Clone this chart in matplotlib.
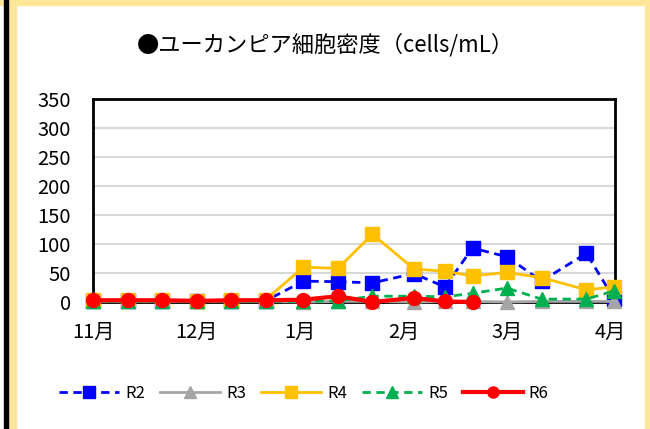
import pandas as pd
import numpy as np
import matplotlib
matplotlib.use('Agg')
import matplotlib.pyplot as plt
from matplotlib.patches import Rectangle

plt.rcParams['font.family'] = ['Noto Sans CJK JP', 'DejaVu Sans']

# 観測日
dates = ['2020-11-01', '2020-11-11', '2020-11-21', '2020-12-01', '2020-12-11', '2020-12-21',
         '2021-01-01', '2021-01-11', '2021-01-21', '2021-02-02', '2021-02-11', '2021-02-19',
         '2021-03-01', '2021-03-11', '2021-03-24', '2021-04-01']
r2 = [2, 2, 2, 1, 2, 2, 36, 35, 33, 49, 26, 93, 78, 36, 84, 6]
r3 = [1, 1, 1, 1, 1, 1, 0, 1, 1, 0, 1, 1, 0, 1, 1, 1]
r4 = [3, 3, 3, 2, 3, 4, 60, 58, 117, 57, 53, 45, 51, 42, 21, 26]
r5 = [1, 1, 1, 1, 1, 1, 1, 2, 10, 10, 9, 15, 24, 5, 5, 19]
r6 = [3, 3, 3, 2, 3, 3, 4, 10, 0, 7, 1, 0]
month_labels = ['11月', '12月', '1月', '2月', '3月', '4月']
title = '●ユーカンピア細胞密度（cells/mL）'

start = pd.Timestamp('2020-11-01')
days = [(pd.Timestamp(d) - start).days for d in dates]

fig = plt.figure(figsize=(6.5, 4.29), dpi=100)
W, H = 650, 429

def box(x, y, w, h, c):
    fig.patches.append(Rectangle((x / W, 1 - (y + h) / H), w / W, h / H,
                                 transform=fig.transFigure, color=c, zorder=-1))

# 枠（セルの背景）
box(0, 0, W, 5, '#FFE699')
box(8, 0, 8, H, '#FFE699')
box(645, 0, 5, H, '#FFE699')
box(4, 0, 4, H, 'black')

ax = fig.add_axes([93 / W, 1 - 302 / H, (615 - 93) / W, (302 - 99) / H])

ax.plot(days, r2, color='#0000FF', lw=2, linestyle=(0, (3, 2)), marker='s', ms=10, clip_on=False, label='R2', zorder=3)
ax.plot(days, r3, color='#A5A5A5', lw=2, marker='^', ms=10, clip_on=False, label='R3', zorder=4)
ax.plot(days, r4, color='#FFC000', lw=2, marker='s', ms=10, clip_on=False, label='R4', zorder=5)
ax.plot(days, r5, color='#00B050', lw=2, linestyle=(0, (3, 2)), marker='^', ms=10, clip_on=False, label='R5', zorder=6)
ax.plot(days[:len(r6)], r6, color='#FF0000', lw=3, marker='o', ms=10, clip_on=False, label='R6', zorder=7)

ax.set_ylim(0, 350)
ax.set_yticks(np.arange(0, 351, 50))
ax.set_xlim(0, 151.3)
ax.set_xticks(np.arange(0, 151, 30))
ax.set_xticklabels(month_labels)
ax.tick_params(axis='both', length=0, labelsize=14.5)
ax.tick_params(axis='y', pad=16)
ax.tick_params(axis='x', pad=14)
ax.grid(axis='y', color='#D9D9D9', lw=1.5)
ax.set_axisbelow(True)
for s in ax.spines.values():
    s.set_color('black')
    s.set_linewidth(2)

fig.text(325 / W, 1 - 45 / H, title, ha='center', va='center', fontsize=16)

fig.legend(loc='center', bbox_to_anchor=(304 / W, 1 - 393 / H), ncol=5, frameon=False,
           fontsize=12, handlelength=3.6, handletextpad=0.36, columnspacing=0.9, markerscale=0.8)

fig.savefig('out.png', dpi=100)
